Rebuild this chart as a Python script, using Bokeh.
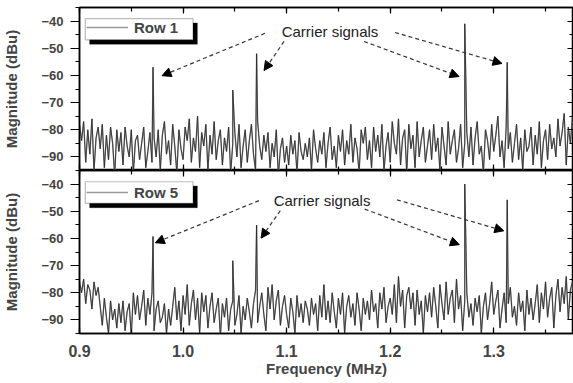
import numpy as np
from bokeh.plotting import figure
from bokeh.layouts import column
from bokeh.models import (Range1d, LinearAxis, SingleIntervalTicker, Legend,
                          LegendItem, Label, Arrow, NormalHead, BoxAnnotation,
                          PrintfTickFormatter)
from bokeh.embed import file_html
from bokeh.resources import INLINE

# ---------------- data ----------------
freq_start = 0.900
freq_step = 0.002

row1_noise = [
    -78, -84, -77, -92, -80, -89, -76, -95, -83, -79,
    -87, -78, -94, -82, -91, -79, -85, -97, -80, -88,
    -81, -93, -79, -86, -90, -80, -96, -84, -82, -91,
    -85, -79, -94, -88, -81, -92, -83, -90, -80, -95,
    -82, -77, -89, -84, -93, -78, -86, -96, -80, -87,
    -91, -79, -84, -76, -92, -83, -88, -75, -94, -81,
    -86, -78, -95, -82, -89, -77, -91, -84, -80, -93,
    -83, -88, -79, -96, -85, -81, -90, -78, -94, -86,
    -80, -92, -84, -78, -89, -95, -77, -86, -91, -82,
    -88, -81, -94, -85, -90, -80, -97, -87, -83, -92,
    -86, -93, -82, -89, -84, -96, -81, -88, -91, -85,
    -90, -83, -95, -80, -87, -92, -84, -89, -81, -94,
    -85, -79, -91, -86, -94, -82, -88, -80, -93, -84,
    -89, -78, -92, -83, -87, -96, -80, -85, -79, -91,
    -84, -94, -79, -88, -82, -90, -78, -95, -86, -81,
    -92, -77, -85, -89, -76, -93, -83, -80, -96, -78,
    -87, -82, -94, -77, -90, -84, -79, -92, -86, -80,
    -91, -78, -88, -83, -95, -79, -86, -93, -77, -89,
    -84, -80, -92, -87, -78, -94, -85, -81, -90, -79,
    -93, -83, -77, -89, -86, -96, -80, -84, -91, -78,
    -88, -82, -75, -90, -84, -94, -79, -87, -81, -92,
    -85, -78, -91, -83, -95, -80, -88, -86, -79, -93,
    -82, -89, -77, -94, -84, -80, -91, -78, -87, -83,
    -90, -76, -86, -81, -74, -93, -79, -85, -75, -88,
]

row5_noise = [
    -76, -80, -75, -84, -77, -79, -86, -76, -81, -78,
    -85, -92, -82, -89, -95, -83, -90, -86, -93, -84,
    -91, -83, -94, -87, -84, -96, -80, -88, -81, -90,
    -85, -79, -92, -82, -88, -80, -94, -86, -83, -91,
    -89, -84, -95, -86, -92, -85, -78, -90, -83, -94,
    -81, -88, -77, -92, -84, -79, -90, -82, -95, -80,
    -87, -81, -93, -85, -80, -91, -86, -82, -96, -84,
    -89, -82, -94, -86, -83, -92, -88, -81, -95, -85,
    -90, -82, -87, -93, -84, -79, -91, -85, -80, -88,
    -94, -78, -86, -77, -90, -83, -79, -92, -85, -81,
    -88, -93, -82, -87, -95, -81, -89, -84, -91, -83,
    -86, -92, -82, -88, -84, -94, -81, -89, -77, -90,
    -83, -91, -80, -87, -93, -82, -88, -80, -95, -85,
    -81, -89, -84, -92, -80, -86, -94, -82, -88, -83,
    -90, -79, -87, -84, -93, -80, -86, -78, -91, -85,
    -82, -88, -77, -91, -74, -85, -79, -93, -81, -78,
    -86, -80, -92, -79, -88, -83, -95, -81, -87, -80,
    -89, -78, -85, -93, -77, -84, -90, -76, -88, -82,
    -79, -91, -75, -86, -81, -94, -83, -80, -89, -84,
    -92, -82, -87, -81, -95, -85, -80, -90, -84, -76,
    -88, -83, -79, -93, -86, -80, -91, -84, -78, -89,
    -85, -92, -80, -87, -83, -94, -79, -88, -82, -90,
    -84, -77, -91, -80, -86, -76, -89, -82, -78, -93,
    -81, -75, -87, -78, -84, -74, -90, -79, -76, -85,
]

peak_freqs = [0.971, 1.048, 1.071, 1.272, 1.313]
row1_peaks = [-57.0, -65.4, -52.0, -41.0, -55.2]
row5_peaks = [-59.3, -68.2, -55.1, -40.0, -45.8]

legend_labels = ["Row 1", "Row 5"]
annotation_text = "Carrier signals"
# label centre (freq, dBu) per panel
label_pos = [(1.1419, -43.8), (1.1342, -46.0)]
# arrows per panel: (x_start, y_start, x_end, y_end)
arrows_row1 = [(1.0791, -44.5, 0.9797, -60.1), (1.0975, -47.5, 1.0782, -58.2),
               (1.1747, -47.5, 1.2665, -60.4), (1.2047, -44.2, 1.3080, -55.6)]
arrows_row5 = [(1.0733, -46.1, 0.9732, -61.6), (1.0939, -49.8, 1.0753, -59.9),
               (1.1754, -49.2, 1.2668, -62.3), (1.2066, -45.8, 1.3097, -57.2)]
# legend frame box (left, right, top, bottom) in data units, and its shadow shift
legend_box = [(0.9056, 1.0096, -39.1, -46.9), (0.9056, 1.0096, -39.15, -47.1)]
shadow_shift = (0.0042, -1.6)

x_min, x_max = 0.9, 1.377
y_min, y_max = -95, -35

FONT = "Liberation Sans"


def build_trace(noise, peaks):
    f = freq_start + freq_step * np.arange(len(noise))
    allf = np.concatenate([f, np.array(peak_freqs)])
    allv = np.concatenate([np.array(noise, dtype=float), np.array(peaks)])
    order = np.argsort(allf, kind="stable")
    return allf[order], allv[order]


def plain_axis(ax, major_in=6, minor_in=4):
    ax.major_label_text_font_size = "1px"
    ax.major_label_text_color = None
    ax.major_label_standoff = 0
    ax.major_tick_in = major_in
    ax.major_tick_out = 0
    ax.minor_tick_in = minor_in
    ax.minor_tick_out = 0
    ax.axis_line_width = 1.5
    ax.major_tick_line_width = 1.2
    ax.minor_tick_line_width = 1.2
    ax.axis_line_color = "black"


def make_panel(noise, peaks, label, lpos, arrows, box, height, bottom,
               bt, bb, leg_y):
    x_range = Range1d(x_min, x_max)
    y_range = Range1d(y_min, y_max)
    p = figure(width=573, height=height, x_range=x_range, y_range=y_range,
               output_backend="svg", toolbar_location=None, min_border=0,
               min_border_left=78, min_border_right=0, min_border_top=bt,
               min_border_bottom=bb)
    p.xgrid.visible = False
    p.ygrid.visible = False
    p.outline_line_color = "black"
    p.outline_line_width = 1.5
    p.background_fill_color = "white"
    p.border_fill_color = "white"

    xt = lambda: SingleIntervalTicker(interval=0.1, num_minor_ticks=2)
    yt = lambda: SingleIntervalTicker(interval=10, num_minor_ticks=2)

    # left axis
    ya = p.yaxis[0]
    ya.ticker = yt()
    ya.axis_label = "Magnitude (dBu)"
    ya.axis_label_text_font = FONT
    ya.axis_label_text_font_style = "bold"
    ya.axis_label_text_font_size = "15px"
    ya.axis_label_standoff = 18
    ya.major_label_text_font = FONT
    ya.major_label_text_font_style = "bold"
    ya.major_label_text_font_size = "13px"
    ya.major_label_standoff = 7
    ya.major_tick_out = 9
    ya.major_tick_in = 0
    ya.minor_tick_out = 4
    ya.minor_tick_in = 0
    ya.axis_line_width = 1.5
    ya.major_tick_line_width = 1.2
    ya.minor_tick_line_width = 1.2

    xa = p.xaxis[0]
    xa.ticker = xt()
    if bottom:
        xa.formatter = PrintfTickFormatter(format="%.1f")
        xa.axis_label = "Frequency (MHz)"
        xa.axis_label_text_font = FONT
        xa.axis_label_text_font_style = "bold"
        xa.axis_label_text_font_size = "15px"
        xa.axis_label_standoff = 0
        xa.major_label_text_font = FONT
        xa.major_label_text_font_style = "bold"
        xa.major_label_text_font_size = "16px"
        xa.major_label_standoff = 11
        xa.major_tick_in = 6
        xa.major_tick_out = 0
        xa.minor_tick_in = 4
        xa.minor_tick_out = 0
        xa.axis_line_width = 1.5
        xa.major_tick_line_width = 1.2
        xa.minor_tick_line_width = 1.2
    else:
        plain_axis(xa)

    top_ax = LinearAxis(ticker=xt())
    plain_axis(top_ax)
    p.add_layout(top_ax, "above")
    right_ax = LinearAxis(ticker=yt())
    plain_axis(right_ax)
    p.add_layout(right_ax, "right")

    f, v = build_trace(noise, peaks)
    light = p.line(f, v, line_color="#9a9a9a", line_width=1.4)
    p.line(f, v, line_color="#262626", line_width=0.8)

    # legend frame with drop shadow (drawn beneath the legend entry)
    l, rr, t, b = box
    p.add_layout(BoxAnnotation(left=l + shadow_shift[0], right=rr + shadow_shift[0],
                               top=t + shadow_shift[1], bottom=b + shadow_shift[1],
                               fill_color="black", fill_alpha=1, line_color="black",
                               line_width=1, level="underlay"))
    p.add_layout(BoxAnnotation(left=l, right=rr, top=t, bottom=b,
                               fill_color="white", fill_alpha=1, line_color="#222222",
                               line_width=1.2, level="underlay"))
    legend = Legend(items=[LegendItem(label=label, renderers=[light])],
                    location=(7, leg_y), margin=0, padding=5, spacing=0,
                    glyph_width=42, glyph_height=20, label_height=20,
                    label_standoff=6, label_text_font=FONT,
                    label_text_font_style="bold", label_text_font_size="15px",
                    background_fill_alpha=0, border_line_color=None)
    p.add_layout(legend)

    p.add_layout(Label(x=lpos[0], y=lpos[1], text=annotation_text,
                       text_font=FONT, text_font_size="15px",
                       text_align="center", text_baseline="middle",
                       text_color="#222222"))
    for (xs, ys, xe, ye) in arrows:
        p.add_layout(Arrow(x_start=xs, y_start=ys, x_end=xe, y_end=ye,
                           line_color="#333333", line_width=1.2, line_dash="4 3",
                           end=NormalHead(size=9, fill_color="black",
                                          line_color="black", line_width=1)))
    return p


top = make_panel(row1_noise, row1_peaks, legend_labels[0], label_pos[0],
                 arrows_row1, legend_box[0], 170, False, 7, 0, 133)
bot = make_panel(row5_noise, row5_peaks, legend_labels[1], label_pos[1],
                 arrows_row5, legend_box[1], 213, True, 0, 50, 131)

layout = column(top, bot, spacing=0)
open("out.html", "w").write(file_html(layout, INLINE))
